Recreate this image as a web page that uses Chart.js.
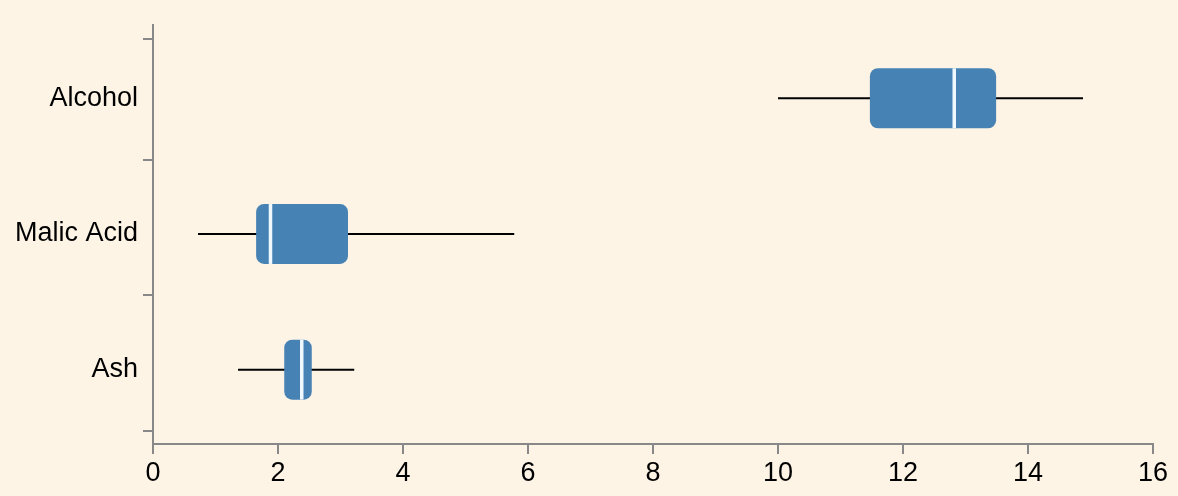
<!DOCTYPE html>
<html>
<head>
<meta charset="utf-8">
<script src="https://cdn.jsdelivr.net/npm/chart.js@4/dist/chart.umd.min.js"></script>
<style>
  html, body { margin: 0; padding: 0; background: #fdf4e6; }
  #wrap { width: 1178px; height: 496px; }
</style>
</head>
<body>
<div id="wrap"><canvas id="c" width="1178" height="496"></canvas></div>
<script>
// ---- data ----
const categories = ["Alcohol", "Malic Acid", "Ash"];
const whiskerLow  = [10.0, 0.72, 1.36];
const q1          = [11.47, 1.65, 2.10];
const median      = [12.82, 1.88, 2.38];
const q3          = [13.49, 3.12, 2.54];
const whiskerHigh = [14.88, 5.78, 3.22];
const xTicks      = [0, 2, 4, 6, 8, 10, 12, 14, 16];
const yTickMarks  = [-0.44, 0.457, 1.447, 2.452];

const FONT = "'Liberation Sans', Arial, Helvetica, sans-serif";
const AXIS = '#888888';
const BOX = '#4682b4';

const boxData = categories.map((c, i) => ({ x: [q1[i], q3[i]], y: i }));
const whiskerData = categories.map((c, i) => ({ x: [whiskerLow[i], whiskerHigh[i]], y: i }));

const bgPlugin = {
  id: 'bg',
  beforeDraw(chart) {
    const ctx = chart.ctx;
    ctx.save();
    ctx.fillStyle = '#fdf4e6';
    ctx.fillRect(0, 0, chart.width, chart.height);
    ctx.restore();
  }
};

const medianPlugin = {
  id: 'medians',
  afterDatasetsDraw(chart) {
    const ctx = chart.ctx;
    const xs = chart.scales.x, ys = chart.scales.y;
    const meta = chart.getDatasetMeta(0);
    ctx.save();
    ctx.strokeStyle = '#f0f8ff';
    ctx.lineWidth = 3.5;
    median.forEach((m, i) => {
      const bar = meta.data[i];
      const half = bar.height / 2;
      const px = xs.getPixelForValue(m);
      const py = ys.getPixelForValue(i);
      ctx.beginPath();
      ctx.moveTo(px, py - half);
      ctx.lineTo(px, py + half);
      ctx.stroke();
    });
    ctx.restore();
  }
};

const yTickPlugin = {
  id: 'yTickMarks',
  afterDraw(chart) {
    const ctx = chart.ctx;
    const ys = chart.scales.y;
    const left = chart.chartArea.left;
    ctx.save();
    ctx.strokeStyle = AXIS;
    ctx.lineWidth = 2;
    yTickMarks.forEach(v => {
      const py = Math.round(ys.getPixelForValue(v));
      ctx.beginPath();
      ctx.moveTo(left - 10, py);
      ctx.lineTo(left, py);
      ctx.stroke();
    });
    ctx.restore();
  }
};

new Chart(document.getElementById('c'), {
  type: 'bar',
  data: {
    datasets: [
      {
        label: 'box',
        data: boxData,
        backgroundColor: BOX,
        borderWidth: 0,
        borderRadius: 8,
        borderSkipped: false,
        maxBarThickness: 60
      },
      {
        label: 'whisker',
        data: whiskerData,
        backgroundColor: '#000000',
        borderWidth: 0,
        maxBarThickness: 2
      }
    ]
  },
  options: {
    indexAxis: 'y',
    responsive: false,
    animation: false,
    grouped: false,
    layout: { padding: { top: 25, right: 25, left: 0, bottom: 0 } },
    plugins: { legend: { display: false }, tooltip: { enabled: false } },
    scales: {
      x: {
        type: 'linear',
        min: 0,
        max: 16,
        offset: false,
        afterBuildTicks(scale) { scale.ticks = xTicks.map(v => ({ value: v })); },
        afterFit(scale) { scale.height = 52; },
        grid: { drawOnChartArea: false, color: AXIS, lineWidth: 2, tickLength: 10 },
        border: { display: true, color: AXIS, width: 2 },
        ticks: { color: '#000', font: { family: FONT, size: 27 }, padding: 3, maxRotation: 0 }
      },
      y: {
        type: 'linear',
        reverse: true,
        offset: false,
        min: -0.54,
        max: 2.548,
        afterBuildTicks(scale) { scale.ticks = categories.map((c, i) => ({ value: i })); },
        afterFit(scale) { scale.width = 153; },
        grid: { drawOnChartArea: false, color: 'rgba(0,0,0,0)', tickLength: 10 },
        border: { display: true, color: AXIS, width: 2 },
        ticks: {
          color: '#000',
          font: { family: FONT, size: 27 },
          padding: 5,
          callback: (v) => categories[v] !== undefined ? categories[v] : ''
        }
      }
    }
  },
  plugins: [bgPlugin, medianPlugin, yTickPlugin]
});
</script>
</body>
</html>
